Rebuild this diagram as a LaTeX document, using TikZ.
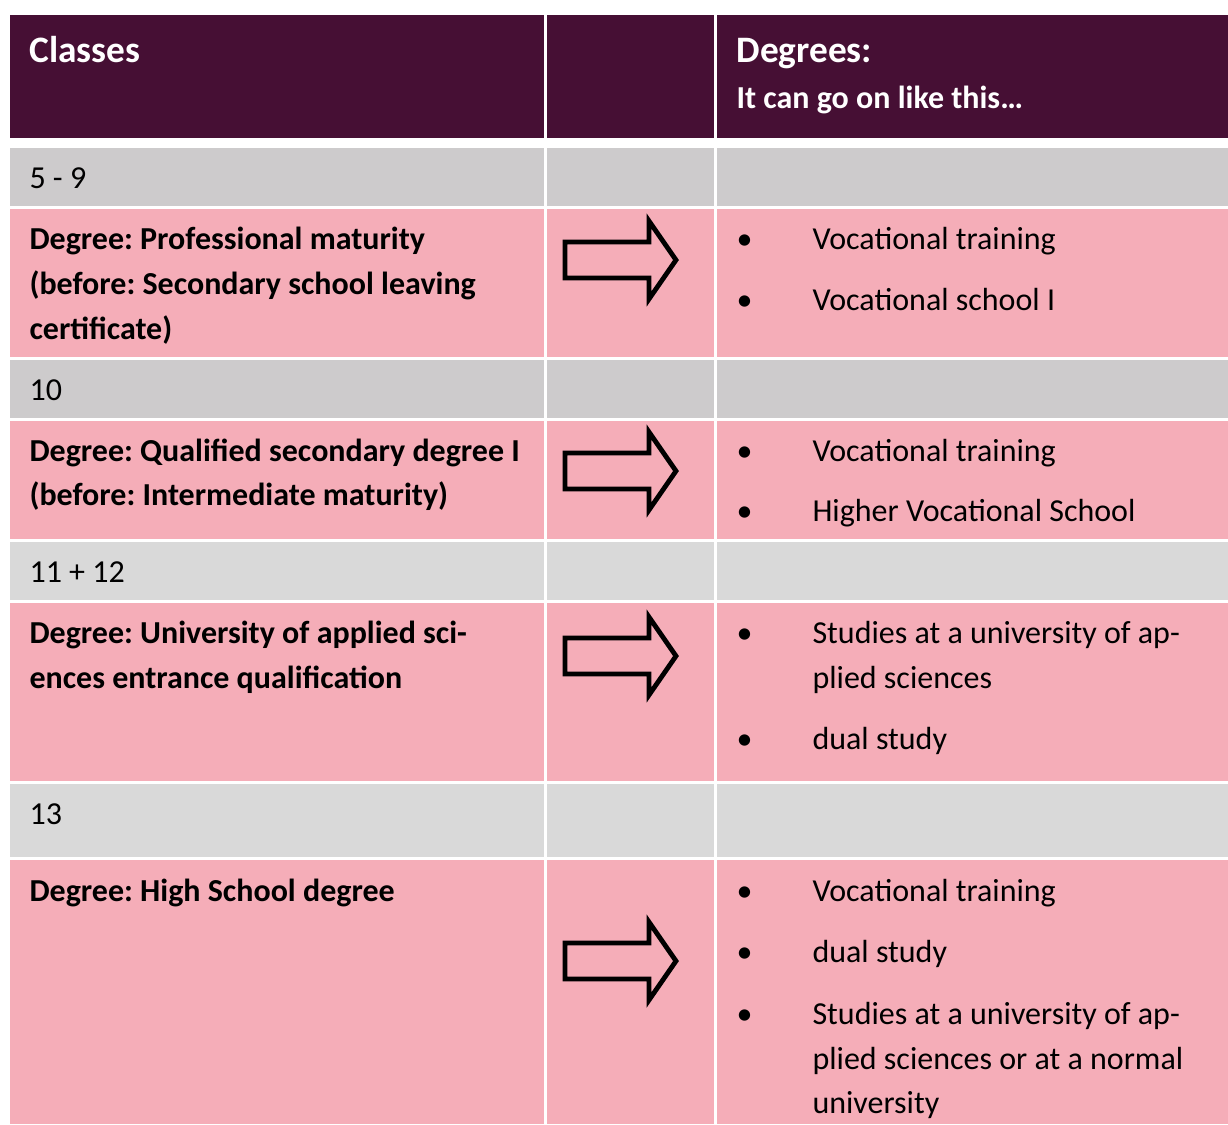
\documentclass[tikz,border=0pt]{standalone}
\usepackage{fontspec}
\setmainfont{Carlito}
\frenchspacing
\usetikzlibrary{positioning}
\definecolor{headpurple}{HTML}{460F34}
\definecolor{rowpink}{HTML}{F5ADB8}
\definecolor{greydark}{HTML}{CDCBCC}
\definecolor{greylight}{HTML}{D9D9D9}
\tikzset{
	cell/.style={inner sep=0pt, anchor=base west, font=\fontsize{12}{16.9}\selectfont}, % plain table text
	boldcell/.style={cell, font=\fontsize{12}{16.9}\selectfont\bfseries}, % degree names
	headcell/.style={cell, text=white, font=\fontsize{14}{19}\selectfont\bfseries}, % header titles
	blockarrow/.pic={\draw[line width=1.8pt, line join=miter, fill=rowpink] (0,-18) -- (84,-18) -- (84,-39) -- (111,0) -- (84,39) -- (84,18) -- (0,18) -- cycle;}, % the fat arrow
}

\begin{document}
\begin{tikzpicture}[x=0.375pt, y=-0.375pt]
	\useasboundingbox[fill=white] (0,0) rectangle (1228,1124);

	% header row
	\foreach \l/\r in {10/544, 547/714, 717/1228}
		\fill[headpurple] (\l,15) rectangle (\r,138);
	\node[headcell] (classes) at (29,62) {Classes};
	\node[headcell] (degrees) at (736,62) {Degrees:};
	\node[boldcell, text=white] (goon) at (736,108) {It can go on like this…};

	% row bands
	\foreach \top/\bot/\col in {148/206/greydark, 209/357/rowpink, 360/418/greydark, 421/539/rowpink, 542/600/greylight, 603/781/rowpink, 784/857/greylight, 860/1124/rowpink}
		\foreach \l/\r in {10/544, 547/714, 717/1228}
			\fill[\col] (\l,\top) rectangle (\r,\bot);

	% classes
	\foreach \y/\t in {188/5 - 9, 400/10, 582/11 + 12, 824/13}
		\node[cell] (class-\y) at (29,\y) {\t};

	% degrees, left column
	\foreach \y/\t in {249/Degree: Professional maturity, 294/(before: Secondary school leaving, 339/certificate),
		461/Degree: Qualified secondary degree I, 505/(before: Intermediate maturity),
		643/Degree: University of applied sci-, 688/ences entrance qualification,
		901/Degree: High School degree}
		\node[boldcell] (deg-\y) at (29,\y) {\t};

	% arrows
	\foreach \y in {260, 471, 656, 961}
		\pic (arr-\y) at (565,\y) {blockarrow};

	% what comes next
	\foreach \y in {249, 310, 461, 521, 643, 749, 901, 962, 1024}
		\node[cell] (dot-\y) at (736,\y) {•};
	\foreach \y/\t in {249/Vocational training, 310/Vocational school I,
		461/Vocational training, 521/Higher Vocational School,
		643/Studies at a university of ap-, 688/plied sciences, 749/dual study,
		901/Vocational training, 962/dual study, 1024/Studies at a university of ap-, 1069/plied sciences or at a normal, 1113/university}
		\node[cell] (next-\y) at (812,\y) {\t};
\end{tikzpicture}
\end{document}
